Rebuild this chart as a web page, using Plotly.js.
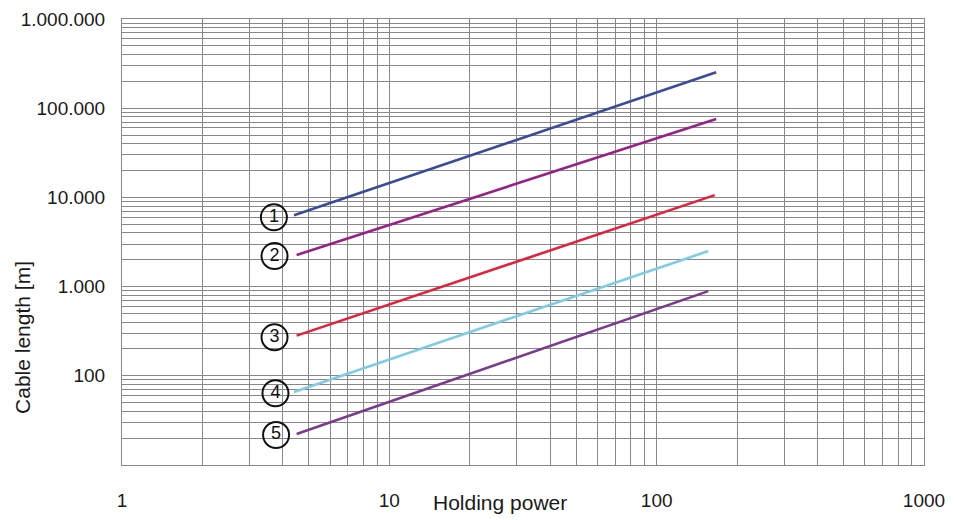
<!DOCTYPE html>
<html><head><meta charset="utf-8">
<script src="https://cdn.plot.ly/plotly-3.0.1.min.js"></script>
<style>html,body{margin:0;padding:0;background:#fff}#chart{width:954px;height:520px}</style>
</head><body><div id="chart"></div>
<script>
// Curve identifiers and data (holding power vs cable length)
const curveIds = ['1', '2', '3', '4', '5'];
const curveColors = ['#3c4a9b', '#982087', '#e3213f', '#7ecbe6', '#7b3a8e'];
const power1 = [4.4, 167];  const length1 = [6300, 253000];
const power2 = [4.5, 167];  const length2 = [2260, 75700];
const power3 = [4.5, 165];  const length3 = [282, 10600];
const power4 = [4.4, 156];  const length4 = [66, 2500];
const power5 = [4.5, 156];  const length5 = [22.3, 890];
// Circle label positions (data coordinates)
const labelPower = [3.70, 3.72, 3.72, 3.75, 3.77];
const labelLength = [5980, 2200, 270, 63.7, 21.7];
// Tick labels
const xDecadeVals = [1, 10, 100, 1000];
const xDecadeText = ['1', '10', '100', '1000'];
const yDecadeVals = [10, 100, 1000, 10000, 100000, 1000000];
const yDecadeText = ['', '100', '1.000', '10.000', '100.000', '1.000.000'];

function logTicks(decades, labels) {
  const vals = [], text = [];
  for (let i = 0; i < decades.length; i++) {
    const d = decades[i];
    vals.push(d); text.push(labels[i]);
    if (i < decades.length - 1) {
      for (let k = 2; k <= 9; k++) { vals.push(d * k); text.push(''); }
    }
  }
  return {vals, text};
}
const xt = logTicks(xDecadeVals, xDecadeText);
const yt = logTicks(yDecadeVals, yDecadeText);

const powers = [power1, power2, power3, power4, power5];
const lengths = [length1, length2, length3, length4, length5];
const traces = powers.map((p, i) => ({
  type: 'scatter', mode: 'lines', x: p, y: lengths[i],
  line: {color: curveColors[i], width: 2.6}, hoverinfo: 'skip', showlegend: false
}));
traces.push({
  type: 'scatter', mode: 'markers+text', x: labelPower, y: labelLength,
  text: curveIds, textposition: 'middle center',
  textfont: {family: 'Liberation Sans, Arial, sans-serif', size: 18, color: '#111'},
  marker: {symbol: 'circle-open', size: 26, color: '#111', line: {width: 2, color: '#111'}},
  cliponaxis: false, hoverinfo: 'skip', showlegend: false
});

const font = {family: 'Liberation Sans, Arial, sans-serif', size: 19, color: '#1a1a1a'};
const gridCol = '#888888';
const layout = {
  width: 954, height: 520,
  margin: {l: 122, r: 30, t: 19, b: 55},
  paper_bgcolor: '#fff', plot_bgcolor: '#fff',
  showlegend: false,
  xaxis: {
    type: 'log', range: [0, 3], tickmode: 'array', tickvals: xt.vals, ticktext: xt.text,
    showgrid: true, gridcolor: gridCol, gridwidth: 1, zeroline: false,
    showline: true, linecolor: gridCol, linewidth: 1, mirror: true,
    ticks: '', ticklabelstandoff: 18, tickfont: font
  },
  yaxis: {
    type: 'log', range: [1, 6], tickmode: 'array', tickvals: yt.vals, ticktext: yt.text,
    showgrid: true, gridcolor: gridCol, gridwidth: 1, zeroline: false,
    showline: true, linecolor: gridCol, linewidth: 1, mirror: true,
    ticks: '', ticklabelstandoff: 12, tickfont: font
  },
  annotations: [
    {text: 'Holding power', xref: 'paper', yref: 'paper', x: 0.4713, y: -0.085,
     xanchor: 'center', yanchor: 'middle', showarrow: false,
     font: {family: 'Liberation Sans, Arial, sans-serif', size: 21, color: '#1a1a1a'}},
    {text: 'Cable length [m]', xref: 'paper', yref: 'paper', x: -0.1234, y: 0.285,
     xanchor: 'center', yanchor: 'middle', showarrow: false, textangle: -90,
     font: {family: 'Liberation Sans, Arial, sans-serif', size: 21, color: '#1a1a1a'}}
  ]
};
Plotly.newPlot('chart', traces, layout, {staticPlot: true, displayModeBar: false});
</script>
</body></html>
